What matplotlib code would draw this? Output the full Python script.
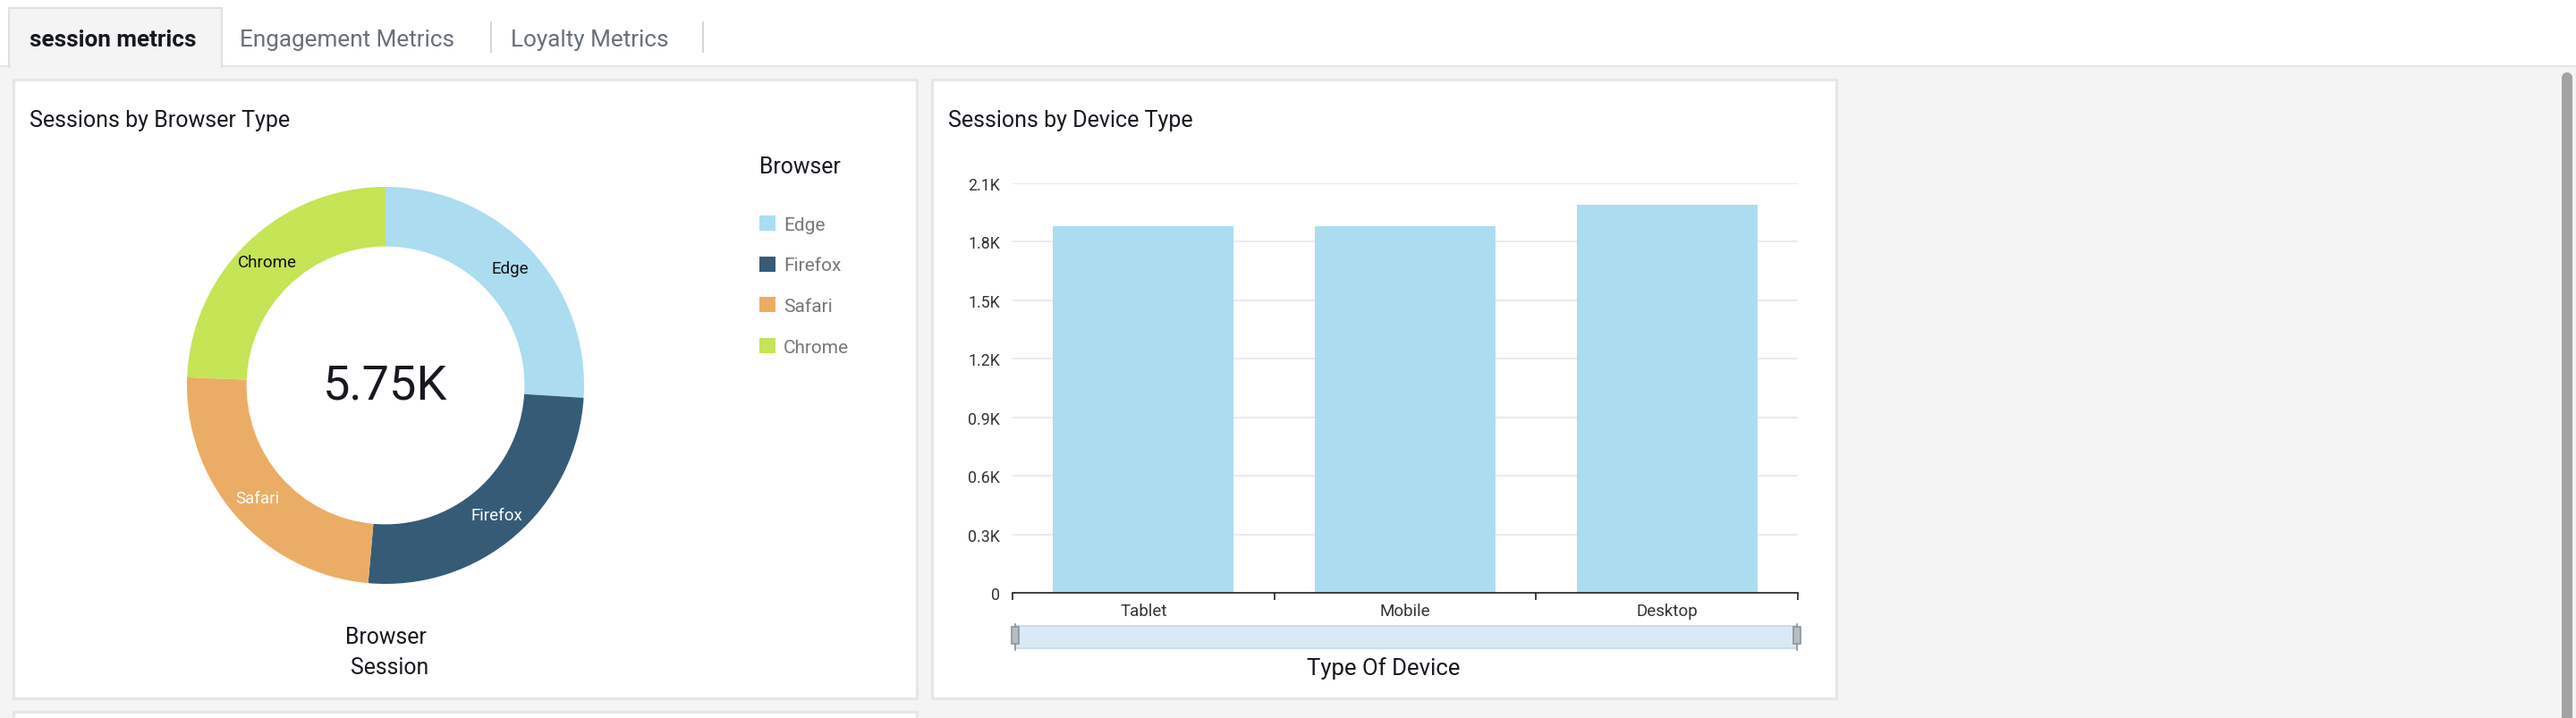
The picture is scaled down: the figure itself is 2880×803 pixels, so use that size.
import matplotlib
matplotlib.use('Agg')
import matplotlib.pyplot as plt
from matplotlib.patches import Rectangle, Ellipse
from matplotlib.lines import Line2D
from matplotlib.ticker import FuncFormatter
import numpy as np

# ─── Data ───────────────────────────────────────────────────────────
browsers = ['Edge', 'Firefox', 'Safari', 'Chrome']
browser_sessions = [1495, 1460, 1395, 1400]
browser_colors = ['#acdcf0', '#365b77', '#ebad65', '#c5e456']
browser_label_colors = ['#111111', '#ffffff', '#ffffff', '#111111']

devices = ['Tablet', 'Mobile', 'Desktop']
device_sessions = [1882, 1878, 1988]
device_yticks = [0, 300, 600, 900, 1200, 1500, 1800, 2100]

tabs = ['session metrics', 'Engagement Metrics', 'Loyalty Metrics']
tab_x = [33, 268, 571]

# ─── Layout helpers (pixel coords, y from top) ──────────────────────
W, H = 2880, 804
plt.rcParams['font.family'] = ['Roboto', 'DejaVu Sans']

fig = plt.figure(figsize=(W / 100, H / 100), dpi=100)
fig.patch.set_facecolor('#f4f4f4')


def frac(x0, y0, x1, y1):
    return [x0 / W, 1 - y1 / H, (x1 - x0) / W, (y1 - y0) / H]


def box(x0, y0, x1, y1, **kw):
    r = Rectangle((x0 / W, 1 - y1 / H), (x1 - x0) / W, (y1 - y0) / H,
                  transform=fig.transFigure, **kw)
    fig.add_artist(r)
    return r


def line(xs, ys, **kw):
    fig.add_artist(Line2D([x / W for x in xs], [1 - y / H for y in ys],
                          transform=fig.transFigure, **kw))


def text(x, y, s, **kw):
    kw.setdefault('va', 'center')
    return fig.text(x / W, 1 - y / H, s, **kw)


def fmt_k(v, pos=None):
    if v == 0:
        return '0'
    return f'{v / 1000:.1f}K'


# ─── Page chrome: tab bar, panels, scrollbar ────────────────────────
box(0, 0, W, 74, facecolor='white', edgecolor='none', zorder=-10)
box(0, 74, W, 76, facecolor='#e3e3e3', edgecolor='none', zorder=-9)
box(10, 10, 248, 76, facecolor='#f4f4f4', edgecolor='#e0e0e0',
    linewidth=1.5, zorder=-8)
box(11.5, 70, 246.5, 78, facecolor='#f4f4f4', edgecolor='none', zorder=-7)
for x in [549, 786]:
    line([x, x], [26, 59], color='#d5d5d5', linewidth=1.4, zorder=-6)
for i, (t, x) in enumerate(zip(tabs, tab_x)):
    text(x, 45, t, fontsize=18.8, color='#16191f' if i == 0 else '#687078',
         weight='bold' if i == 0 else 'normal')

for x0, y0, x1, y1 in [(15, 90, 1025, 782), (1042, 90, 2053, 782),
                       (15, 797, 1025, 840)]:
    box(x0, y0, x1, y1, facecolor='white', edgecolor='#e6e6e6',
        linewidth=2.2, zorder=-5)

box(2864, 88, 2876, H + 10, facecolor='#a3a3a3', edgecolor='none', zorder=-4)
fig.add_artist(Ellipse((2870 / W, 1 - 88 / H), 12 / W, 12 / H,
                       transform=fig.transFigure, facecolor='#a3a3a3',
                       edgecolor='none', zorder=-4))

# ─── Left panel: donut ──────────────────────────────────────────────
text(33, 135, 'Sessions by Browser Type', fontsize=18, color='#16191f')

ax1 = fig.add_axes(frac(209, 210, 653, 654))
wedges, _ = ax1.pie(browser_sessions, colors=browser_colors, startangle=90,
                    counterclock=False, radius=1,
                    wedgeprops=dict(width=0.3, linewidth=0))
ax1.set_xlim(-1, 1)
ax1.set_ylim(-1, 1)
for w, name, c in zip(wedges, browsers, browser_label_colors):
    mid = np.deg2rad((w.theta1 + w.theta2) / 2)
    ax1.text(0.86 * np.cos(mid), 0.86 * np.sin(mid), name, ha='center',
             va='center', fontsize=13.5, color=c)
total = sum(browser_sessions)
ax1.text(0, 0, f'{total / 1000:.3g}K', ha='center', va='center',
         fontsize=39, color='#16191f')

text(431, 713, 'Browser', ha='center', fontsize=17.8, color='#16191f')
text(436, 747, 'Session', ha='center', fontsize=17.8, color='#16191f')

text(849, 186.5, 'Browser', fontsize=17.8, color='#16191f')
leg = ax1.legend(wedges, browsers, loc='upper left',
                 bbox_to_anchor=(849 / W, 1 - 242 / H),
                 bbox_transform=fig.transFigure, frameon=False, fontsize=15,
                 borderpad=0, borderaxespad=0, handlelength=0.87,
                 handleheight=0.87, handletextpad=0.42, labelspacing=1.25)
for t in leg.get_texts():
    t.set_color('#777777')

# ─── Right panel: bars ──────────────────────────────────────────────
text(1060, 135, 'Sessions by Device Type', fontsize=18, color='#16191f')

ax2 = fig.add_axes(frac(1132, 206, 2010, 664))
ax2.set_facecolor('none')
ax2.bar(range(len(devices)), device_sessions, width=0.69, color='#acdcf0',
        zorder=2)
ax2.set_xlim(-0.5, len(devices) - 0.5)
ax2.set_ylim(0, device_yticks[-1])
ax2.set_yticks(device_yticks)
ax2.yaxis.set_major_formatter(FuncFormatter(fmt_k))
ax2.yaxis.grid(True, color='#e8e8e8', linewidth=1.2)
ax2.set_axisbelow(True)
for s in ['left', 'top', 'right']:
    ax2.spines[s].set_visible(False)
ax2.spines['bottom'].set_color('#222222')
ax2.spines['bottom'].set_linewidth(1.2)
ax2.tick_params(axis='y', length=0, pad=10, labelsize=12.8,
                labelcolor='#333333')
ax2.set_xticks(np.arange(-0.5, len(devices)))
ax2.set_xticklabels([])
ax2.tick_params(axis='x', which='major', length=5.8, width=1.2,
                color='#222222')
ax2.set_xticks(range(len(devices)), minor=True)
ax2.set_xticklabels(devices, minor=True)
ax2.tick_params(axis='x', which='minor', length=0, pad=8, labelsize=13.5,
                labelcolor='#333333')
ax2.set_xlabel('Type Of Device', fontsize=18.5, color='#16191f', va='center')
ax2.xaxis.set_label_coords((1547 - 1132) / 878, (664 - 748) / 458)

# range slider under the category axis
box(1135, 701, 2009, 726, facecolor='#d9e9f5', edgecolor='#c5d9e8',
    linewidth=1.2)
for x in [1135, 2009]:
    line([x, x], [699, 728], color='#8a949c', linewidth=1.2, zorder=3)
    box(x - 4, 702, x + 4, 721, facecolor='#b6bec4', edgecolor='#8a949c',
        linewidth=1.2, zorder=4)

fig.savefig('out.png', dpi=100, facecolor=fig.get_facecolor())
